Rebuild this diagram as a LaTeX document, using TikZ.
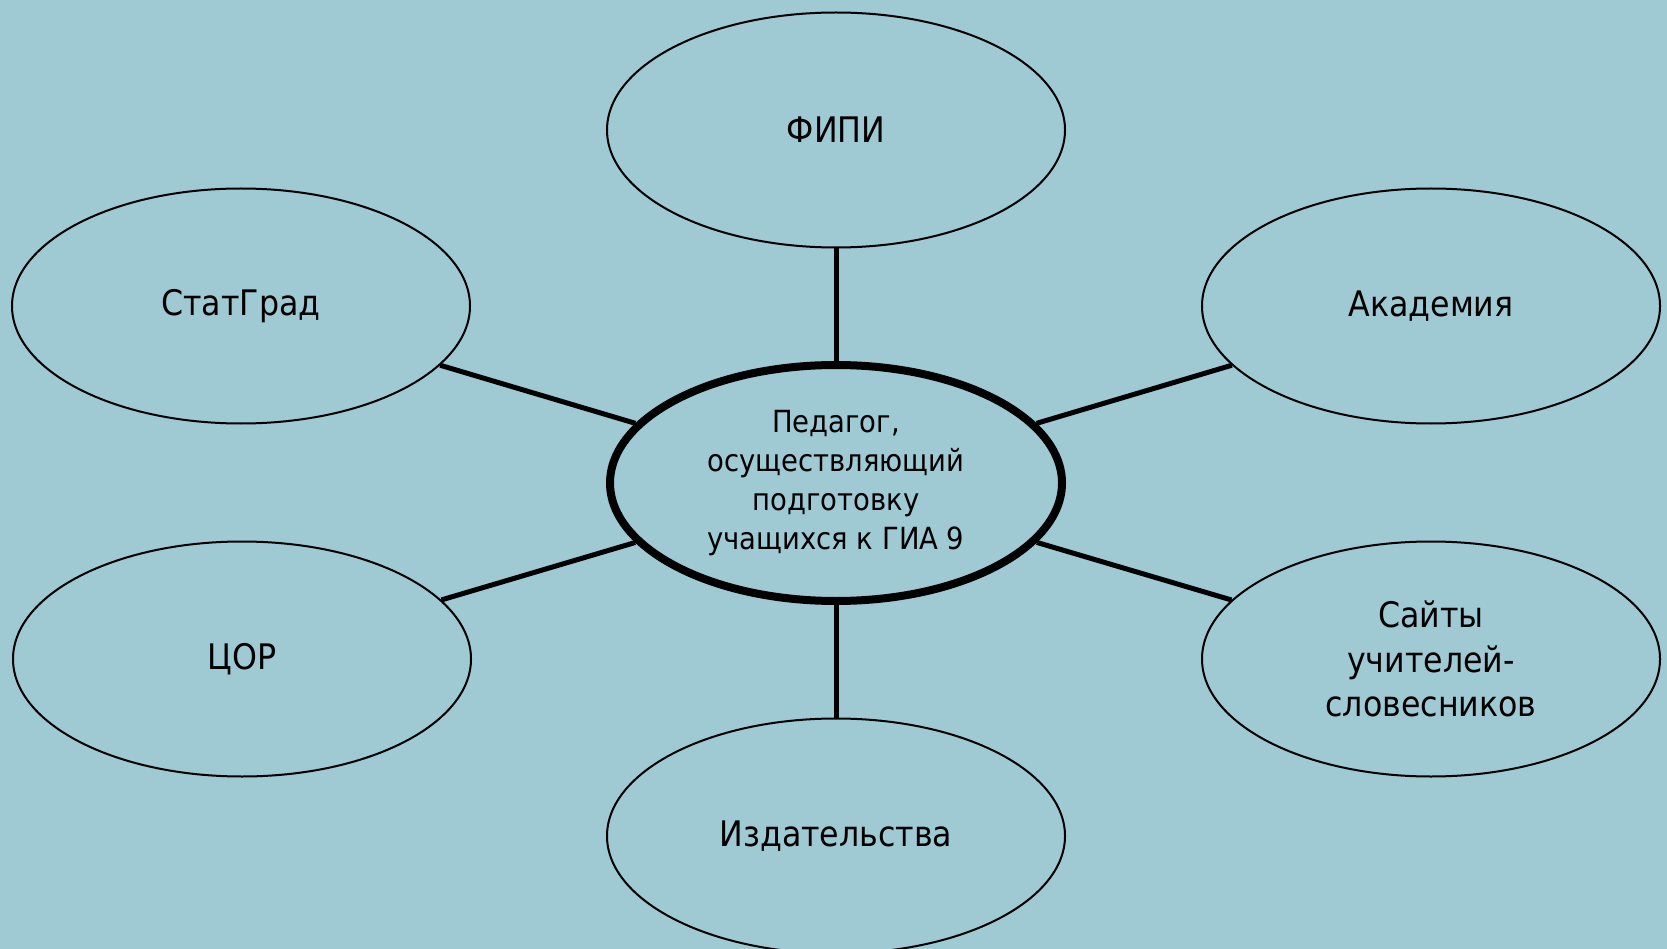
\documentclass[tikz,border=0pt]{standalone}
\usepackage{fontspec}
\setmainfont{DejaVu Sans Condensed}
\usetikzlibrary{shapes.geometric}
\definecolor{bgcol}{RGB}{159,201,211}
\tikzset{
  outer/.style={ellipse, draw=black, line width=2pt, minimum width=458pt, minimum height=235pt, inner sep=0pt, align=center, font=\fontsize{35.2}{44.7}\selectfont},
  hub/.style={ellipse, draw=black, line width=8pt, minimum width=452pt, minimum height=236pt, inner sep=0pt, align=center, font=\fontsize{30.5}{39}\selectfont},
  link/.style={line width=5pt, black}
}
\begin{document}
\begin{tikzpicture}[x=1pt,y=-1pt]
\fill[bgcol] (0,0) rectangle (1667,949);
\useasboundingbox (0,0) rectangle (1667,949);
\node[hub] (c) at (836,483) {\rule{0pt}{0pt}Педагог,\\осуществляющий\\подготовку\\учащихся к ГИА 9};
\node[outer] (fipi) at (836,130) {ФИПИ};
\node[outer] (stat) at (241,306) {СтатГрад};
\node[outer] (acad) at (1431,306) {Академия};
\node[outer] (cor) at (242,659) {ЦОР};
\node[outer] (sites) at (1431,659) {Сайты\\учителей-\\словесников};
\node[outer] (izd) at (836,836) {Издательства};
\draw[link] (c) -- (fipi);
\draw[link] (c) -- (stat);
\draw[link] (c) -- (acad);
\draw[link] (c) -- (cor);
\draw[link] (c) -- (sites);
\draw[link] (c) -- (izd);
\end{tikzpicture}
\end{document}
